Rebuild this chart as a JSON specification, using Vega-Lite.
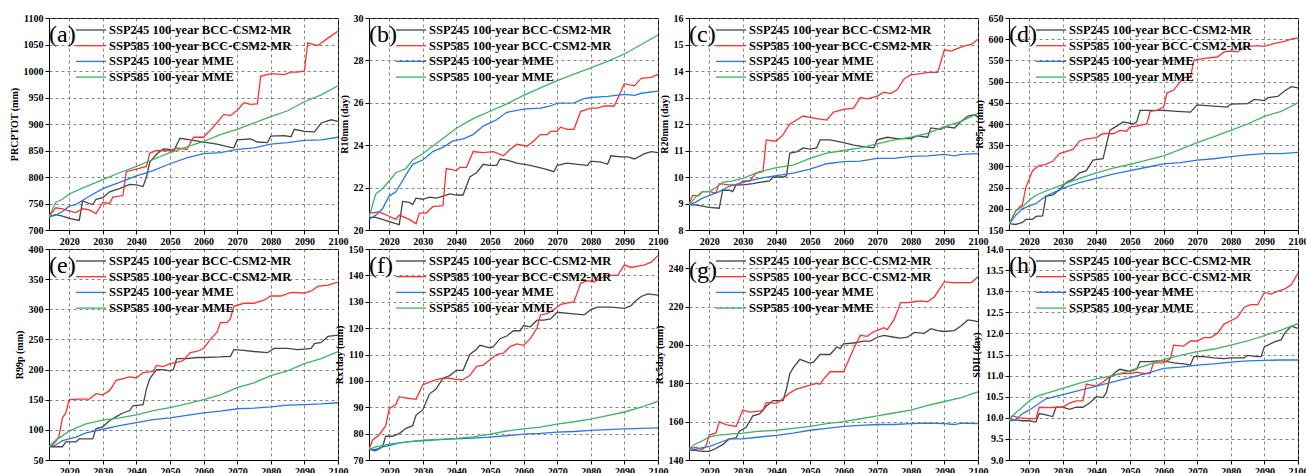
{
"$schema":"https://vega.github.io/schema/vega-lite/v6.json",
"padding":{"left":8,"top":12,"right":0,"bottom":0},
"config":{
 "font":"Liberation Serif",
 "view":{"stroke":"#000","strokeWidth":1},
 "axis":{"labelFont":"Liberation Serif","labelFontWeight":"bold","labelFontSize":10,"labelColor":"#000","titleFont":"Liberation Serif","titleFontWeight":"bold","titleFontSize":10,"titleColor":"#000","domainColor":"#000","tickColor":"#000","gridColor":"#666","gridDash":[3,3],"gridWidth":0.8,"tickSize":4,"labelOverlap":false},
 "axisX":{"labelPadding":2,"labelFlush":false},
 "legend":{"orient":"none","legendX":41,"legendY":3.5,"labelFont":"Liberation Serif","labelFontWeight":"bold","labelFontSize":12.5,"labelColor":"#000","labelLimit":400,"symbolType":"M-3,0H1","symbolSize":225,"rowPadding":0.7,"labelOffset":2,"padding":0},
 "title":{"font":"Liberation Serif","fontSize":24,"fontWeight":"normal","anchor":"start","frame":"group","offset":-34,"dx":0,"color":"#000"}
},
"datasets":{
"a":[
{"s":"k","x":2014,"v":725},{"s":"k","x":2016,"v":729},{"s":"k","x":2018,"v":726},{"s":"k","x":2020,"v":722},{"s":"k","x":2023,"v":718},{"s":"k","x":2024,"v":755},{"s":"k","x":2026,"v":750},{"s":"k","x":2027,"v":748},{"s":"k","x":2028,"v":758},{"s":"k","x":2030,"v":761},{"s":"k","x":2032,"v":772},{"s":"k","x":2035,"v":778},{"s":"k","x":2038,"v":786},{"s":"k","x":2040,"v":785},{"s":"k","x":2042,"v":782},{"s":"k","x":2043,"v":800},{"s":"k","x":2044,"v":828},{"s":"k","x":2046,"v":843},{"s":"k","x":2048,"v":853},{"s":"k","x":2050,"v":852},{"s":"k","x":2051,"v":848},{"s":"k","x":2053,"v":873},{"s":"k","x":2056,"v":870},{"s":"k","x":2060,"v":866},{"s":"k","x":2064,"v":862},{"s":"k","x":2068,"v":856},{"s":"k","x":2069,"v":855},{"s":"k","x":2070,"v":870},{"s":"k","x":2074,"v":872},{"s":"k","x":2076,"v":866},{"s":"k","x":2079,"v":865},{"s":"k","x":2080,"v":877},{"s":"k","x":2084,"v":878},{"s":"k","x":2086,"v":876},{"s":"k","x":2087,"v":890},{"s":"k","x":2090,"v":886},{"s":"k","x":2093,"v":885},{"s":"k","x":2095,"v":902},{"s":"k","x":2098,"v":908},{"s":"k","x":2100,"v":905},
{"s":"r","x":2014,"v":725},{"s":"r","x":2016,"v":742},{"s":"r","x":2018,"v":740},{"s":"r","x":2020,"v":736},{"s":"r","x":2022,"v":733},{"s":"r","x":2024,"v":740},{"s":"r","x":2026,"v":738},{"s":"r","x":2028,"v":731},{"s":"r","x":2030,"v":752},{"s":"r","x":2032,"v":750},{"s":"r","x":2033,"v":762},{"s":"r","x":2036,"v":765},{"s":"r","x":2037,"v":810},{"s":"r","x":2040,"v":815},{"s":"r","x":2043,"v":820},{"s":"r","x":2044,"v":845},{"s":"r","x":2046,"v":850},{"s":"r","x":2050,"v":850},{"s":"r","x":2052,"v":855},{"s":"r","x":2055,"v":852},{"s":"r","x":2057,"v":875},{"s":"r","x":2060,"v":875},{"s":"r","x":2063,"v":895},{"s":"r","x":2066,"v":918},{"s":"r","x":2068,"v":916},{"s":"r","x":2070,"v":926},{"s":"r","x":2072,"v":940},{"s":"r","x":2074,"v":937},{"s":"r","x":2076,"v":938},{"s":"r","x":2077,"v":990},{"s":"r","x":2080,"v":995},{"s":"r","x":2084,"v":993},{"s":"r","x":2086,"v":998},{"s":"r","x":2088,"v":998},{"s":"r","x":2090,"v":1000},{"s":"r","x":2091,"v":1053},{"s":"r","x":2094,"v":1048},{"s":"r","x":2097,"v":1062},{"s":"r","x":2100,"v":1075},
{"s":"b","x":2014,"v":725},{"s":"b","x":2016,"v":728},{"s":"b","x":2018,"v":735},{"s":"b","x":2020,"v":745},{"s":"b","x":2022,"v":748},{"s":"b","x":2025,"v":760},{"s":"b","x":2030,"v":778},{"s":"b","x":2035,"v":790},{"s":"b","x":2040,"v":802},{"s":"b","x":2045,"v":812},{"s":"b","x":2050,"v":825},{"s":"b","x":2055,"v":836},{"s":"b","x":2060,"v":844},{"s":"b","x":2065,"v":846},{"s":"b","x":2070,"v":852},{"s":"b","x":2075,"v":855},{"s":"b","x":2080,"v":862},{"s":"b","x":2085,"v":865},{"s":"b","x":2090,"v":869},{"s":"b","x":2095,"v":870},{"s":"b","x":2100,"v":875},
{"s":"g","x":2014,"v":725},{"s":"g","x":2016,"v":752},{"s":"g","x":2018,"v":758},{"s":"g","x":2020,"v":768},{"s":"g","x":2025,"v":782},{"s":"g","x":2030,"v":795},{"s":"g","x":2035,"v":808},{"s":"g","x":2040,"v":820},{"s":"g","x":2045,"v":833},{"s":"g","x":2050,"v":846},{"s":"g","x":2055,"v":857},{"s":"g","x":2060,"v":867},{"s":"g","x":2065,"v":880},{"s":"g","x":2070,"v":890},{"s":"g","x":2075,"v":902},{"s":"g","x":2080,"v":914},{"s":"g","x":2085,"v":925},{"s":"g","x":2090,"v":942},{"s":"g","x":2095,"v":955},{"s":"g","x":2100,"v":972}
],
"b":[
{"s":"k","x":2014,"v":20.6},{"s":"k","x":2016,"v":20.6},{"s":"k","x":2018,"v":20.5},{"s":"k","x":2020,"v":20.4},{"s":"k","x":2023,"v":20.25},{"s":"k","x":2024,"v":21.35},{"s":"k","x":2026,"v":21.3},{"s":"k","x":2027,"v":21.2},{"s":"k","x":2028,"v":21.5},{"s":"k","x":2030,"v":21.45},{"s":"k","x":2032,"v":21.55},{"s":"k","x":2034,"v":21.5},{"s":"k","x":2036,"v":21.6},{"s":"k","x":2038,"v":21.7},{"s":"k","x":2040,"v":21.65},{"s":"k","x":2042,"v":21.65},{"s":"k","x":2044,"v":22.5},{"s":"k","x":2046,"v":22.7},{"s":"k","x":2048,"v":23.1},{"s":"k","x":2050,"v":23.05},{"s":"k","x":2052,"v":23.05},{"s":"k","x":2053,"v":23.35},{"s":"k","x":2055,"v":23.3},{"s":"k","x":2058,"v":23.15},{"s":"k","x":2062,"v":23.05},{"s":"k","x":2066,"v":22.9},{"s":"k","x":2069,"v":22.75},{"s":"k","x":2070,"v":23.05},{"s":"k","x":2073,"v":23.15},{"s":"k","x":2076,"v":23.1},{"s":"k","x":2079,"v":23.05},{"s":"k","x":2080,"v":23.25},{"s":"k","x":2083,"v":23.2},{"s":"k","x":2085,"v":23.1},{"s":"k","x":2086,"v":23.5},{"s":"k","x":2089,"v":23.45},{"s":"k","x":2091,"v":23.45},{"s":"k","x":2093,"v":23.35},{"s":"k","x":2096,"v":23.6},{"s":"k","x":2098,"v":23.7},{"s":"k","x":2100,"v":23.65},
{"s":"r","x":2014,"v":20.8},{"s":"r","x":2017,"v":20.85},{"s":"r","x":2020,"v":20.65},{"s":"r","x":2022,"v":20.5},{"s":"r","x":2023,"v":20.7},{"s":"r","x":2026,"v":20.5},{"s":"r","x":2028,"v":20.3},{"s":"r","x":2029,"v":20.8},{"s":"r","x":2031,"v":20.8},{"s":"r","x":2033,"v":21.1},{"s":"r","x":2036,"v":21.15},{"s":"r","x":2037,"v":22.9},{"s":"r","x":2040,"v":22.8},{"s":"r","x":2041,"v":22.95},{"s":"r","x":2043,"v":22.95},{"s":"r","x":2045,"v":23.7},{"s":"r","x":2048,"v":23.65},{"s":"r","x":2051,"v":23.7},{"s":"r","x":2054,"v":23.5},{"s":"r","x":2056,"v":23.8},{"s":"r","x":2058,"v":24.05},{"s":"r","x":2061,"v":23.95},{"s":"r","x":2063,"v":24.2},{"s":"r","x":2065,"v":24.5},{"s":"r","x":2067,"v":24.5},{"s":"r","x":2068,"v":24.65},{"s":"r","x":2070,"v":24.65},{"s":"r","x":2071,"v":24.85},{"s":"r","x":2073,"v":24.75},{"s":"r","x":2075,"v":24.75},{"s":"r","x":2077,"v":25.6},{"s":"r","x":2080,"v":25.75},{"s":"r","x":2082,"v":25.75},{"s":"r","x":2084,"v":25.85},{"s":"r","x":2087,"v":25.85},{"s":"r","x":2090,"v":26.9},{"s":"r","x":2093,"v":26.8},{"s":"r","x":2095,"v":27.15},{"s":"r","x":2098,"v":27.2},{"s":"r","x":2100,"v":27.35},
{"s":"b","x":2014,"v":20.5},{"s":"b","x":2016,"v":20.7},{"s":"b","x":2018,"v":21.0},{"s":"b","x":2020,"v":21.6},{"s":"b","x":2022,"v":21.8},{"s":"b","x":2025,"v":22.6},{"s":"b","x":2027,"v":23.1},{"s":"b","x":2030,"v":23.3},{"s":"b","x":2033,"v":23.7},{"s":"b","x":2036,"v":23.9},{"s":"b","x":2039,"v":24.2},{"s":"b","x":2042,"v":24.3},{"s":"b","x":2045,"v":24.5},{"s":"b","x":2048,"v":24.9},{"s":"b","x":2050,"v":25.05},{"s":"b","x":2052,"v":25.2},{"s":"b","x":2055,"v":25.55},{"s":"b","x":2060,"v":25.7},{"s":"b","x":2065,"v":25.75},{"s":"b","x":2068,"v":25.85},{"s":"b","x":2070,"v":25.98},{"s":"b","x":2075,"v":26.0},{"s":"b","x":2078,"v":26.2},{"s":"b","x":2080,"v":26.25},{"s":"b","x":2085,"v":26.3},{"s":"b","x":2090,"v":26.4},{"s":"b","x":2093,"v":26.35},{"s":"b","x":2095,"v":26.45},{"s":"b","x":2100,"v":26.55},
{"s":"g","x":2014,"v":20.6},{"s":"g","x":2016,"v":21.7},{"s":"g","x":2018,"v":21.95},{"s":"g","x":2020,"v":22.3},{"s":"g","x":2022,"v":22.7},{"s":"g","x":2025,"v":22.9},{"s":"g","x":2027,"v":23.3},{"s":"g","x":2030,"v":23.6},{"s":"g","x":2035,"v":24.2},{"s":"g","x":2040,"v":24.8},{"s":"g","x":2045,"v":25.25},{"s":"g","x":2050,"v":25.6},{"s":"g","x":2055,"v":25.95},{"s":"g","x":2060,"v":26.35},{"s":"g","x":2065,"v":26.7},{"s":"g","x":2070,"v":27.05},{"s":"g","x":2075,"v":27.35},{"s":"g","x":2080,"v":27.65},{"s":"g","x":2085,"v":27.95},{"s":"g","x":2090,"v":28.3},{"s":"g","x":2095,"v":28.75},{"s":"g","x":2100,"v":29.2}
],
"c":[
{"s":"k","x":2014,"v":8.95},{"s":"k","x":2016,"v":8.95},{"s":"k","x":2018,"v":8.9},{"s":"k","x":2020,"v":8.85},{"s":"k","x":2023,"v":8.82},{"s":"k","x":2024,"v":9.5},{"s":"k","x":2026,"v":9.5},{"s":"k","x":2027,"v":9.45},{"s":"k","x":2028,"v":9.7},{"s":"k","x":2030,"v":9.7},{"s":"k","x":2033,"v":9.75},{"s":"k","x":2035,"v":9.8},{"s":"k","x":2038,"v":9.85},{"s":"k","x":2039,"v":10.0},{"s":"k","x":2042,"v":10.0},{"s":"k","x":2043,"v":10.05},{"s":"k","x":2044,"v":10.9},{"s":"k","x":2046,"v":10.95},{"s":"k","x":2048,"v":11.1},{"s":"k","x":2050,"v":11.05},{"s":"k","x":2052,"v":11.1},{"s":"k","x":2053,"v":11.4},{"s":"k","x":2056,"v":11.4},{"s":"k","x":2060,"v":11.3},{"s":"k","x":2063,"v":11.2},{"s":"k","x":2066,"v":11.15},{"s":"k","x":2069,"v":11.1},{"s":"k","x":2070,"v":11.4},{"s":"k","x":2073,"v":11.5},{"s":"k","x":2076,"v":11.45},{"s":"k","x":2080,"v":11.45},{"s":"k","x":2082,"v":11.55},{"s":"k","x":2085,"v":11.5},{"s":"k","x":2086,"v":11.85},{"s":"k","x":2089,"v":11.8},{"s":"k","x":2090,"v":11.9},{"s":"k","x":2093,"v":11.85},{"s":"k","x":2095,"v":12.1},{"s":"k","x":2097,"v":12.3},{"s":"k","x":2099,"v":12.35},{"s":"k","x":2100,"v":12.25},
{"s":"r","x":2014,"v":8.95},{"s":"r","x":2015,"v":9.3},{"s":"r","x":2017,"v":9.3},{"s":"r","x":2018,"v":9.45},{"s":"r","x":2020,"v":9.45},{"s":"r","x":2022,"v":9.4},{"s":"r","x":2023,"v":9.75},{"s":"r","x":2026,"v":9.7},{"s":"r","x":2029,"v":9.7},{"s":"r","x":2030,"v":9.85},{"s":"r","x":2032,"v":9.85},{"s":"r","x":2034,"v":10.15},{"s":"r","x":2036,"v":10.2},{"s":"r","x":2037,"v":11.4},{"s":"r","x":2040,"v":11.35},{"s":"r","x":2042,"v":11.6},{"s":"r","x":2044,"v":12.0},{"s":"r","x":2046,"v":12.15},{"s":"r","x":2048,"v":12.3},{"s":"r","x":2050,"v":12.25},{"s":"r","x":2052,"v":12.2},{"s":"r","x":2055,"v":12.15},{"s":"r","x":2057,"v":12.45},{"s":"r","x":2060,"v":12.55},{"s":"r","x":2063,"v":12.6},{"s":"r","x":2065,"v":13.0},{"s":"r","x":2067,"v":12.95},{"s":"r","x":2070,"v":13.05},{"s":"r","x":2072,"v":13.2},{"s":"r","x":2074,"v":13.15},{"s":"r","x":2076,"v":13.3},{"s":"r","x":2078,"v":13.7},{"s":"r","x":2080,"v":13.85},{"s":"r","x":2083,"v":13.9},{"s":"r","x":2085,"v":13.95},{"s":"r","x":2088,"v":13.95},{"s":"r","x":2090,"v":14.8},{"s":"r","x":2092,"v":14.75},{"s":"r","x":2094,"v":14.85},{"s":"r","x":2096,"v":14.95},{"s":"r","x":2098,"v":15.0},{"s":"r","x":2100,"v":15.2},
{"s":"b","x":2014,"v":8.95},{"s":"b","x":2016,"v":9.05},{"s":"b","x":2018,"v":9.2},{"s":"b","x":2020,"v":9.3},{"s":"b","x":2023,"v":9.45},{"s":"b","x":2026,"v":9.65},{"s":"b","x":2030,"v":9.8},{"s":"b","x":2035,"v":9.95},{"s":"b","x":2040,"v":10.05},{"s":"b","x":2045,"v":10.15},{"s":"b","x":2050,"v":10.3},{"s":"b","x":2055,"v":10.5},{"s":"b","x":2060,"v":10.58},{"s":"b","x":2065,"v":10.6},{"s":"b","x":2070,"v":10.7},{"s":"b","x":2075,"v":10.7},{"s":"b","x":2080,"v":10.78},{"s":"b","x":2085,"v":10.8},{"s":"b","x":2090,"v":10.85},{"s":"b","x":2093,"v":10.8},{"s":"b","x":2095,"v":10.85},{"s":"b","x":2100,"v":10.88},
{"s":"g","x":2014,"v":8.95},{"s":"g","x":2016,"v":9.25},{"s":"g","x":2018,"v":9.45},{"s":"g","x":2020,"v":9.45},{"s":"g","x":2022,"v":9.6},{"s":"g","x":2024,"v":9.8},{"s":"g","x":2027,"v":9.85},{"s":"g","x":2030,"v":9.95},{"s":"g","x":2035,"v":10.2},{"s":"g","x":2040,"v":10.35},{"s":"g","x":2045,"v":10.45},{"s":"g","x":2050,"v":10.7},{"s":"g","x":2055,"v":10.9},{"s":"g","x":2060,"v":11.0},{"s":"g","x":2065,"v":11.1},{"s":"g","x":2070,"v":11.25},{"s":"g","x":2075,"v":11.4},{"s":"g","x":2080,"v":11.5},{"s":"g","x":2085,"v":11.65},{"s":"g","x":2090,"v":11.9},{"s":"g","x":2095,"v":12.1},{"s":"g","x":2100,"v":12.4}
],
"d":[
{"s":"k","x":2014,"v":165},{"s":"k","x":2016,"v":163},{"s":"k","x":2018,"v":168},{"s":"k","x":2019,"v":175},{"s":"k","x":2021,"v":175},{"s":"k","x":2022,"v":182},{"s":"k","x":2024,"v":183},{"s":"k","x":2025,"v":230},{"s":"k","x":2027,"v":232},{"s":"k","x":2029,"v":245},{"s":"k","x":2031,"v":262},{"s":"k","x":2033,"v":270},{"s":"k","x":2035,"v":285},{"s":"k","x":2037,"v":290},{"s":"k","x":2039,"v":315},{"s":"k","x":2042,"v":318},{"s":"k","x":2044,"v":385},{"s":"k","x":2046,"v":395},{"s":"k","x":2048,"v":405},{"s":"k","x":2051,"v":400},{"s":"k","x":2052,"v":405},{"s":"k","x":2053,"v":432},{"s":"k","x":2056,"v":432},{"s":"k","x":2060,"v":432},{"s":"k","x":2064,"v":430},{"s":"k","x":2068,"v":428},{"s":"k","x":2070,"v":445},{"s":"k","x":2075,"v":442},{"s":"k","x":2079,"v":440},{"s":"k","x":2080,"v":447},{"s":"k","x":2085,"v":448},{"s":"k","x":2087,"v":458},{"s":"k","x":2090,"v":455},{"s":"k","x":2091,"v":462},{"s":"k","x":2094,"v":465},{"s":"k","x":2096,"v":478},{"s":"k","x":2098,"v":488},{"s":"k","x":2100,"v":485},
{"s":"r","x":2014,"v":165},{"s":"r","x":2016,"v":195},{"s":"r","x":2018,"v":210},{"s":"r","x":2019,"v":250},{"s":"r","x":2021,"v":290},{"s":"r","x":2023,"v":302},{"s":"r","x":2025,"v":305},{"s":"r","x":2027,"v":312},{"s":"r","x":2029,"v":330},{"s":"r","x":2031,"v":335},{"s":"r","x":2033,"v":340},{"s":"r","x":2035,"v":360},{"s":"r","x":2037,"v":365},{"s":"r","x":2040,"v":368},{"s":"r","x":2042,"v":378},{"s":"r","x":2045,"v":377},{"s":"r","x":2047,"v":385},{"s":"r","x":2049,"v":383},{"s":"r","x":2050,"v":393},{"s":"r","x":2052,"v":395},{"s":"r","x":2055,"v":400},{"s":"r","x":2056,"v":430},{"s":"r","x":2058,"v":432},{"s":"r","x":2060,"v":440},{"s":"r","x":2061,"v":473},{"s":"r","x":2063,"v":480},{"s":"r","x":2066,"v":510},{"s":"r","x":2068,"v":510},{"s":"r","x":2069,"v":550},{"s":"r","x":2072,"v":555},{"s":"r","x":2076,"v":558},{"s":"r","x":2078,"v":570},{"s":"r","x":2080,"v":572},{"s":"r","x":2082,"v":570},{"s":"r","x":2084,"v":582},{"s":"r","x":2088,"v":585},{"s":"r","x":2090,"v":583},{"s":"r","x":2093,"v":590},{"s":"r","x":2096,"v":595},{"s":"r","x":2098,"v":600},{"s":"r","x":2100,"v":603},
{"s":"b","x":2014,"v":163},{"s":"b","x":2016,"v":185},{"s":"b","x":2018,"v":200},{"s":"b","x":2020,"v":207},{"s":"b","x":2022,"v":212},{"s":"b","x":2025,"v":230},{"s":"b","x":2030,"v":248},{"s":"b","x":2035,"v":262},{"s":"b","x":2040,"v":272},{"s":"b","x":2045,"v":282},{"s":"b","x":2050,"v":290},{"s":"b","x":2055,"v":298},{"s":"b","x":2060,"v":306},{"s":"b","x":2065,"v":309},{"s":"b","x":2070,"v":315},{"s":"b","x":2075,"v":318},{"s":"b","x":2080,"v":323},{"s":"b","x":2085,"v":327},{"s":"b","x":2090,"v":330},{"s":"b","x":2095,"v":330},{"s":"b","x":2100,"v":333},
{"s":"g","x":2014,"v":163},{"s":"g","x":2016,"v":195},{"s":"g","x":2018,"v":205},{"s":"g","x":2020,"v":220},{"s":"g","x":2022,"v":232},{"s":"g","x":2025,"v":242},{"s":"g","x":2030,"v":257},{"s":"g","x":2035,"v":272},{"s":"g","x":2040,"v":285},{"s":"g","x":2045,"v":296},{"s":"g","x":2050,"v":305},{"s":"g","x":2055,"v":315},{"s":"g","x":2060,"v":325},{"s":"g","x":2065,"v":340},{"s":"g","x":2070,"v":356},{"s":"g","x":2075,"v":370},{"s":"g","x":2080,"v":385},{"s":"g","x":2085,"v":400},{"s":"g","x":2090,"v":418},{"s":"g","x":2095,"v":430},{"s":"g","x":2100,"v":450}
],
"e":[
{"s":"k","x":2014,"v":72},{"s":"k","x":2016,"v":72},{"s":"k","x":2018,"v":72},{"s":"k","x":2019,"v":80},{"s":"k","x":2022,"v":80},{"s":"k","x":2023,"v":85},{"s":"k","x":2027,"v":85},{"s":"k","x":2028,"v":102},{"s":"k","x":2030,"v":105},{"s":"k","x":2032,"v":115},{"s":"k","x":2034,"v":122},{"s":"k","x":2036,"v":128},{"s":"k","x":2038,"v":132},{"s":"k","x":2039,"v":140},{"s":"k","x":2042,"v":142},{"s":"k","x":2043,"v":168},{"s":"k","x":2044,"v":185},{"s":"k","x":2046,"v":200},{"s":"k","x":2048,"v":200},{"s":"k","x":2050,"v":198},{"s":"k","x":2051,"v":200},{"s":"k","x":2052,"v":218},{"s":"k","x":2055,"v":218},{"s":"k","x":2058,"v":220},{"s":"k","x":2060,"v":220},{"s":"k","x":2065,"v":221},{"s":"k","x":2068,"v":222},{"s":"k","x":2069,"v":233},{"s":"k","x":2072,"v":232},{"s":"k","x":2075,"v":230},{"s":"k","x":2079,"v":228},{"s":"k","x":2081,"v":235},{"s":"k","x":2085,"v":235},{"s":"k","x":2088,"v":233},{"s":"k","x":2090,"v":234},{"s":"k","x":2092,"v":235},{"s":"k","x":2093,"v":243},{"s":"k","x":2095,"v":245},{"s":"k","x":2097,"v":255},{"s":"k","x":2100,"v":257},
{"s":"r","x":2014,"v":72},{"s":"r","x":2016,"v":80},{"s":"r","x":2017,"v":90},{"s":"r","x":2018,"v":120},{"s":"r","x":2019,"v":128},{"s":"r","x":2020,"v":150},{"s":"r","x":2023,"v":151},{"s":"r","x":2026,"v":151},{"s":"r","x":2028,"v":160},{"s":"r","x":2030,"v":158},{"s":"r","x":2032,"v":165},{"s":"r","x":2034,"v":182},{"s":"r","x":2036,"v":185},{"s":"r","x":2038,"v":188},{"s":"r","x":2040,"v":186},{"s":"r","x":2042,"v":195},{"s":"r","x":2045,"v":197},{"s":"r","x":2046,"v":207},{"s":"r","x":2048,"v":205},{"s":"r","x":2050,"v":210},{"s":"r","x":2052,"v":212},{"s":"r","x":2054,"v":215},{"s":"r","x":2056,"v":228},{"s":"r","x":2058,"v":230},{"s":"r","x":2060,"v":235},{"s":"r","x":2062,"v":250},{"s":"r","x":2064,"v":262},{"s":"r","x":2065,"v":278},{"s":"r","x":2067,"v":278},{"s":"r","x":2068,"v":285},{"s":"r","x":2069,"v":305},{"s":"r","x":2072,"v":310},{"s":"r","x":2075,"v":310},{"s":"r","x":2078,"v":315},{"s":"r","x":2080,"v":322},{"s":"r","x":2083,"v":322},{"s":"r","x":2086,"v":328},{"s":"r","x":2090,"v":327},{"s":"r","x":2092,"v":330},{"s":"r","x":2094,"v":338},{"s":"r","x":2097,"v":340},{"s":"r","x":2100,"v":345},
{"s":"b","x":2014,"v":72},{"s":"b","x":2016,"v":75},{"s":"b","x":2018,"v":82},{"s":"b","x":2020,"v":85},{"s":"b","x":2022,"v":88},{"s":"b","x":2025,"v":95},{"s":"b","x":2030,"v":101},{"s":"b","x":2035,"v":107},{"s":"b","x":2040,"v":112},{"s":"b","x":2045,"v":117},{"s":"b","x":2050,"v":120},{"s":"b","x":2055,"v":124},{"s":"b","x":2060,"v":128},{"s":"b","x":2065,"v":131},{"s":"b","x":2070,"v":135},{"s":"b","x":2075,"v":136},{"s":"b","x":2080,"v":138},{"s":"b","x":2085,"v":141},{"s":"b","x":2090,"v":142},{"s":"b","x":2095,"v":143},{"s":"b","x":2100,"v":145},
{"s":"g","x":2014,"v":72},{"s":"g","x":2016,"v":83},{"s":"g","x":2018,"v":90},{"s":"g","x":2020,"v":98},{"s":"g","x":2022,"v":103},{"s":"g","x":2025,"v":110},{"s":"g","x":2030,"v":116},{"s":"g","x":2035,"v":120},{"s":"g","x":2040,"v":125},{"s":"g","x":2045,"v":132},{"s":"g","x":2050,"v":137},{"s":"g","x":2055,"v":143},{"s":"g","x":2060,"v":150},{"s":"g","x":2065,"v":158},{"s":"g","x":2070,"v":170},{"s":"g","x":2075,"v":178},{"s":"g","x":2080,"v":190},{"s":"g","x":2085,"v":198},{"s":"g","x":2090,"v":210},{"s":"g","x":2095,"v":218},{"s":"g","x":2100,"v":230}
],
"f":[
{"s":"k","x":2014,"v":74},{"s":"k","x":2016,"v":73.5},{"s":"k","x":2018,"v":75},{"s":"k","x":2019,"v":79},{"s":"k","x":2021,"v":79},{"s":"k","x":2023,"v":80},{"s":"k","x":2025,"v":82},{"s":"k","x":2027,"v":83},{"s":"k","x":2028,"v":87},{"s":"k","x":2030,"v":89},{"s":"k","x":2032,"v":95},{"s":"k","x":2034,"v":97},{"s":"k","x":2036,"v":101},{"s":"k","x":2038,"v":102},{"s":"k","x":2040,"v":104},{"s":"k","x":2042,"v":104},{"s":"k","x":2044,"v":110},{"s":"k","x":2046,"v":112},{"s":"k","x":2047,"v":113.5},{"s":"k","x":2050,"v":112.5},{"s":"k","x":2051,"v":113},{"s":"k","x":2053,"v":116},{"s":"k","x":2055,"v":117},{"s":"k","x":2057,"v":119},{"s":"k","x":2059,"v":119},{"s":"k","x":2060,"v":121},{"s":"k","x":2062,"v":120.5},{"s":"k","x":2064,"v":123},{"s":"k","x":2066,"v":123},{"s":"k","x":2068,"v":123.5},{"s":"k","x":2070,"v":126},{"s":"k","x":2074,"v":125.5},{"s":"k","x":2078,"v":125},{"s":"k","x":2080,"v":127},{"s":"k","x":2082,"v":128},{"s":"k","x":2086,"v":128},{"s":"k","x":2090,"v":127.5},{"s":"k","x":2092,"v":128.5},{"s":"k","x":2093,"v":130},{"s":"k","x":2095,"v":132},{"s":"k","x":2097,"v":133},{"s":"k","x":2100,"v":132.5},
{"s":"r","x":2014,"v":74},{"s":"r","x":2015,"v":77.5},{"s":"r","x":2017,"v":79.5},{"s":"r","x":2019,"v":83},{"s":"r","x":2020,"v":89.5},{"s":"r","x":2022,"v":91},{"s":"r","x":2023,"v":94},{"s":"r","x":2025,"v":93.5},{"s":"r","x":2028,"v":93},{"s":"r","x":2030,"v":98.5},{"s":"r","x":2032,"v":99.5},{"s":"r","x":2034,"v":100.5},{"s":"r","x":2036,"v":101},{"s":"r","x":2038,"v":101},{"s":"r","x":2040,"v":100.5},{"s":"r","x":2042,"v":100.5},{"s":"r","x":2044,"v":102},{"s":"r","x":2046,"v":105.5},{"s":"r","x":2048,"v":106},{"s":"r","x":2050,"v":108},{"s":"r","x":2052,"v":110},{"s":"r","x":2054,"v":110.5},{"s":"r","x":2056,"v":113},{"s":"r","x":2058,"v":114},{"s":"r","x":2060,"v":113.5},{"s":"r","x":2062,"v":116},{"s":"r","x":2064,"v":120},{"s":"r","x":2065,"v":125},{"s":"r","x":2067,"v":125.5},{"s":"r","x":2069,"v":127},{"s":"r","x":2071,"v":129},{"s":"r","x":2073,"v":129.5},{"s":"r","x":2075,"v":130},{"s":"r","x":2077,"v":137},{"s":"r","x":2079,"v":138},{"s":"r","x":2081,"v":137.5},{"s":"r","x":2083,"v":139},{"s":"r","x":2085,"v":140},{"s":"r","x":2088,"v":140},{"s":"r","x":2090,"v":144},{"s":"r","x":2092,"v":143},{"s":"r","x":2094,"v":143.5},{"s":"r","x":2096,"v":144},{"s":"r","x":2098,"v":145},{"s":"r","x":2100,"v":147.5},
{"s":"b","x":2014,"v":74},{"s":"b","x":2016,"v":74},{"s":"b","x":2018,"v":75},{"s":"b","x":2020,"v":75.5},{"s":"b","x":2023,"v":76.5},{"s":"b","x":2026,"v":77},{"s":"b","x":2030,"v":77.3},{"s":"b","x":2035,"v":77.7},{"s":"b","x":2040,"v":78},{"s":"b","x":2045,"v":78.3},{"s":"b","x":2050,"v":78.7},{"s":"b","x":2055,"v":79.2},{"s":"b","x":2060,"v":79.8},{"s":"b","x":2065,"v":80.1},{"s":"b","x":2070,"v":80.6},{"s":"b","x":2075,"v":80.8},{"s":"b","x":2080,"v":81.2},{"s":"b","x":2085,"v":81.5},{"s":"b","x":2090,"v":81.8},{"s":"b","x":2095,"v":82},{"s":"b","x":2100,"v":82.2},
{"s":"g","x":2014,"v":74},{"s":"g","x":2016,"v":75},{"s":"g","x":2020,"v":76},{"s":"g","x":2025,"v":76.8},{"s":"g","x":2030,"v":77.5},{"s":"g","x":2035,"v":77.8},{"s":"g","x":2040,"v":78.2},{"s":"g","x":2045,"v":78.8},{"s":"g","x":2050,"v":79.8},{"s":"g","x":2055,"v":81},{"s":"g","x":2060,"v":81.8},{"s":"g","x":2065,"v":82.5},{"s":"g","x":2070,"v":83.6},{"s":"g","x":2075,"v":84.5},{"s":"g","x":2080,"v":85.5},{"s":"g","x":2085,"v":86.8},{"s":"g","x":2090,"v":88.2},{"s":"g","x":2095,"v":90},{"s":"g","x":2100,"v":92.3}
],
"g":[
{"s":"k","x":2014,"v":145},{"s":"k","x":2016,"v":145},{"s":"k","x":2018,"v":144.5},{"s":"k","x":2020,"v":144.5},{"s":"k","x":2022,"v":146},{"s":"k","x":2024,"v":148},{"s":"k","x":2026,"v":151},{"s":"k","x":2028,"v":151.5},{"s":"k","x":2029,"v":155},{"s":"k","x":2031,"v":157},{"s":"k","x":2033,"v":163},{"s":"k","x":2035,"v":164},{"s":"k","x":2037,"v":168},{"s":"k","x":2039,"v":171},{"s":"k","x":2042,"v":171},{"s":"k","x":2043,"v":177},{"s":"k","x":2044,"v":185},{"s":"k","x":2045,"v":188},{"s":"k","x":2047,"v":192.5},{"s":"k","x":2050,"v":190.5},{"s":"k","x":2051,"v":191},{"s":"k","x":2053,"v":195},{"s":"k","x":2056,"v":195},{"s":"k","x":2058,"v":199},{"s":"k","x":2059,"v":198},{"s":"k","x":2060,"v":200.5},{"s":"k","x":2063,"v":201},{"s":"k","x":2066,"v":202},{"s":"k","x":2068,"v":202},{"s":"k","x":2070,"v":204},{"s":"k","x":2072,"v":205},{"s":"k","x":2075,"v":204},{"s":"k","x":2077,"v":203.5},{"s":"k","x":2079,"v":204},{"s":"k","x":2081,"v":206.5},{"s":"k","x":2084,"v":206},{"s":"k","x":2086,"v":208.5},{"s":"k","x":2088,"v":207.5},{"s":"k","x":2090,"v":207},{"s":"k","x":2093,"v":207.5},{"s":"k","x":2095,"v":210},{"s":"k","x":2097,"v":213},{"s":"k","x":2099,"v":212.5},{"s":"k","x":2100,"v":212},
{"s":"r","x":2014,"v":146},{"s":"r","x":2016,"v":146.5},{"s":"r","x":2018,"v":145.5},{"s":"r","x":2019,"v":147},{"s":"r","x":2020,"v":153},{"s":"r","x":2022,"v":154},{"s":"r","x":2023,"v":160},{"s":"r","x":2025,"v":158.5},{"s":"r","x":2028,"v":157.5},{"s":"r","x":2030,"v":166},{"s":"r","x":2032,"v":165},{"s":"r","x":2035,"v":165.5},{"s":"r","x":2036,"v":166},{"s":"r","x":2037,"v":170},{"s":"r","x":2040,"v":169.5},{"s":"r","x":2042,"v":172},{"s":"r","x":2044,"v":175},{"s":"r","x":2046,"v":177},{"s":"r","x":2048,"v":178},{"s":"r","x":2050,"v":179},{"s":"r","x":2052,"v":180},{"s":"r","x":2053,"v":179.5},{"s":"r","x":2054,"v":182},{"s":"r","x":2056,"v":186},{"s":"r","x":2058,"v":186},{"s":"r","x":2060,"v":186},{"s":"r","x":2061,"v":190},{"s":"r","x":2063,"v":198},{"s":"r","x":2065,"v":205},{"s":"r","x":2067,"v":204.5},{"s":"r","x":2069,"v":207},{"s":"r","x":2070,"v":207.5},{"s":"r","x":2072,"v":209},{"s":"r","x":2073,"v":208},{"s":"r","x":2075,"v":213},{"s":"r","x":2077,"v":222},{"s":"r","x":2079,"v":222},{"s":"r","x":2081,"v":222.5},{"s":"r","x":2083,"v":223},{"s":"r","x":2085,"v":222.5},{"s":"r","x":2087,"v":225},{"s":"r","x":2090,"v":233},{"s":"r","x":2092,"v":232.5},{"s":"r","x":2095,"v":232.5},{"s":"r","x":2098,"v":232.5},{"s":"r","x":2100,"v":235.5},
{"s":"b","x":2014,"v":145},{"s":"b","x":2016,"v":145.5},{"s":"b","x":2018,"v":146.5},{"s":"b","x":2020,"v":147},{"s":"b","x":2023,"v":149},{"s":"b","x":2026,"v":151},{"s":"b","x":2030,"v":151},{"s":"b","x":2035,"v":152},{"s":"b","x":2040,"v":152.8},{"s":"b","x":2045,"v":154},{"s":"b","x":2050,"v":155.5},{"s":"b","x":2055,"v":156.5},{"s":"b","x":2060,"v":157.5},{"s":"b","x":2065,"v":158},{"s":"b","x":2070,"v":158.5},{"s":"b","x":2075,"v":158.5},{"s":"b","x":2080,"v":159},{"s":"b","x":2085,"v":159.2},{"s":"b","x":2090,"v":159},{"s":"b","x":2093,"v":158.5},{"s":"b","x":2095,"v":159.2},{"s":"b","x":2100,"v":159},
{"s":"g","x":2014,"v":146},{"s":"g","x":2016,"v":148.5},{"s":"g","x":2018,"v":150},{"s":"g","x":2020,"v":152},{"s":"g","x":2023,"v":153},{"s":"g","x":2026,"v":153.5},{"s":"g","x":2030,"v":154},{"s":"g","x":2035,"v":155},{"s":"g","x":2040,"v":155.5},{"s":"g","x":2045,"v":156.5},{"s":"g","x":2050,"v":157.5},{"s":"g","x":2055,"v":159},{"s":"g","x":2060,"v":160},{"s":"g","x":2065,"v":161.5},{"s":"g","x":2070,"v":163},{"s":"g","x":2075,"v":164.5},{"s":"g","x":2080,"v":166},{"s":"g","x":2085,"v":168.5},{"s":"g","x":2090,"v":170.5},{"s":"g","x":2095,"v":172.5},{"s":"g","x":2100,"v":175.5}
],
"h":[
{"s":"k","x":2014,"v":9.95},{"s":"k","x":2016,"v":9.95},{"s":"k","x":2018,"v":9.93},{"s":"k","x":2020,"v":9.93},{"s":"k","x":2022,"v":9.9},{"s":"k","x":2023,"v":10.1},{"s":"k","x":2025,"v":10.07},{"s":"k","x":2027,"v":10.03},{"s":"k","x":2028,"v":10.25},{"s":"k","x":2030,"v":10.25},{"s":"k","x":2032,"v":10.2},{"s":"k","x":2034,"v":10.25},{"s":"k","x":2036,"v":10.25},{"s":"k","x":2038,"v":10.35},{"s":"k","x":2040,"v":10.5},{"s":"k","x":2042,"v":10.48},{"s":"k","x":2043,"v":10.6},{"s":"k","x":2044,"v":10.95},{"s":"k","x":2046,"v":11.1},{"s":"k","x":2047,"v":11.15},{"s":"k","x":2050,"v":11.1},{"s":"k","x":2052,"v":11.15},{"s":"k","x":2053,"v":11.33},{"s":"k","x":2056,"v":11.33},{"s":"k","x":2058,"v":11.35},{"s":"k","x":2060,"v":11.35},{"s":"k","x":2063,"v":11.3},{"s":"k","x":2066,"v":11.28},{"s":"k","x":2068,"v":11.25},{"s":"k","x":2069,"v":11.45},{"s":"k","x":2072,"v":11.45},{"s":"k","x":2075,"v":11.42},{"s":"k","x":2078,"v":11.4},{"s":"k","x":2080,"v":11.42},{"s":"k","x":2084,"v":11.42},{"s":"k","x":2085,"v":11.48},{"s":"k","x":2088,"v":11.45},{"s":"k","x":2089,"v":11.45},{"s":"k","x":2090,"v":11.68},{"s":"k","x":2093,"v":11.8},{"s":"k","x":2095,"v":11.85},{"s":"k","x":2096,"v":12.0},{"s":"k","x":2098,"v":12.17},{"s":"k","x":2100,"v":12.12},
{"s":"r","x":2014,"v":9.95},{"s":"r","x":2015,"v":10.05},{"s":"r","x":2017,"v":10.0},{"s":"r","x":2020,"v":9.98},{"s":"r","x":2022,"v":9.98},{"s":"r","x":2023,"v":10.25},{"s":"r","x":2026,"v":10.24},{"s":"r","x":2028,"v":10.25},{"s":"r","x":2030,"v":10.25},{"s":"r","x":2032,"v":10.35},{"s":"r","x":2034,"v":10.4},{"s":"r","x":2036,"v":10.4},{"s":"r","x":2037,"v":10.8},{"s":"r","x":2040,"v":10.75},{"s":"r","x":2042,"v":10.85},{"s":"r","x":2044,"v":10.98},{"s":"r","x":2046,"v":11.03},{"s":"r","x":2048,"v":11.05},{"s":"r","x":2050,"v":11.05},{"s":"r","x":2052,"v":11.08},{"s":"r","x":2054,"v":11.05},{"s":"r","x":2056,"v":11.05},{"s":"r","x":2057,"v":11.3},{"s":"r","x":2060,"v":11.3},{"s":"r","x":2062,"v":11.4},{"s":"r","x":2063,"v":11.72},{"s":"r","x":2066,"v":11.7},{"s":"r","x":2068,"v":11.82},{"s":"r","x":2070,"v":11.82},{"s":"r","x":2072,"v":11.9},{"s":"r","x":2074,"v":11.9},{"s":"r","x":2076,"v":12.0},{"s":"r","x":2078,"v":12.22},{"s":"r","x":2080,"v":12.3},{"s":"r","x":2082,"v":12.38},{"s":"r","x":2084,"v":12.62},{"s":"r","x":2086,"v":12.68},{"s":"r","x":2088,"v":12.68},{"s":"r","x":2090,"v":12.97},{"s":"r","x":2092,"v":12.93},{"s":"r","x":2094,"v":13.0},{"s":"r","x":2096,"v":13.05},{"s":"r","x":2098,"v":13.15},{"s":"r","x":2100,"v":13.43},
{"s":"b","x":2014,"v":9.92},{"s":"b","x":2016,"v":9.95},{"s":"b","x":2018,"v":10.1},{"s":"b","x":2020,"v":10.18},{"s":"b","x":2025,"v":10.45},{"s":"b","x":2030,"v":10.55},{"s":"b","x":2035,"v":10.65},{"s":"b","x":2040,"v":10.75},{"s":"b","x":2045,"v":10.85},{"s":"b","x":2050,"v":10.95},{"s":"b","x":2055,"v":11.05},{"s":"b","x":2060,"v":11.17},{"s":"b","x":2065,"v":11.2},{"s":"b","x":2070,"v":11.25},{"s":"b","x":2075,"v":11.28},{"s":"b","x":2080,"v":11.32},{"s":"b","x":2085,"v":11.35},{"s":"b","x":2090,"v":11.36},{"s":"b","x":2095,"v":11.37},{"s":"b","x":2100,"v":11.37},
{"s":"g","x":2014,"v":9.95},{"s":"g","x":2016,"v":10.12},{"s":"g","x":2018,"v":10.25},{"s":"g","x":2020,"v":10.4},{"s":"g","x":2022,"v":10.5},{"s":"g","x":2025,"v":10.58},{"s":"g","x":2030,"v":10.7},{"s":"g","x":2035,"v":10.82},{"s":"g","x":2040,"v":10.92},{"s":"g","x":2045,"v":11.0},{"s":"g","x":2050,"v":11.12},{"s":"g","x":2055,"v":11.25},{"s":"g","x":2060,"v":11.38},{"s":"g","x":2065,"v":11.48},{"s":"g","x":2070,"v":11.57},{"s":"g","x":2075,"v":11.63},{"s":"g","x":2080,"v":11.72},{"s":"g","x":2085,"v":11.82},{"s":"g","x":2090,"v":11.95},{"s":"g","x":2095,"v":12.08},{"s":"g","x":2100,"v":12.23}
]
},
"spacing":-4,
"resolve":{"scale":{"color":"independent","strokeWidth":"independent"},"legend":{"color":"independent","strokeWidth":"independent"}},
"vconcat":[
{"spacing":31,"bounds":"flush",
"resolve":{"scale":{"color":"independent","strokeWidth":"independent"},"legend":{"color":"independent","strokeWidth":"independent"}},
"hconcat":[
{"width":289,"height":212,"data":{"name":"a"},"title":{"text":"(a)"},"mark":{"type":"line","clip":true},
"encoding":{
"x":{"field":"x","type":"quantitative","scale":{"domain":[2014,2100],"nice":false},"axis":{"values":[2020,2030,2040,2050,2060,2070,2080,2090,2100],"format":"d","title":null}},
"y":{"field":"v","type":"quantitative","scale":{"domain":[700,1100],"nice":false,"zero":false},"axis":{"values":[700,750,800,850,900,950,1000,1050,1100],"format":"d","title":"PRCPTOT (mm)"}},
"color":{"field":"s","type":"nominal","scale":{"domain":["k","r","b","g"],"range":["#454545","#ff3030","#2a78e6","#3db462"]},"legend":{"title":null,"labelExpr":"{'k':'SSP245 100-year BCC-CSM2-MR','r':'SSP585 100-year BCC-CSM2-MR','b':'SSP245 100-year MME','g':'SSP585 100-year MME'}[datum.label]"}},
"strokeWidth":{"field":"s","type":"nominal","scale":{"domain":["k","r","b","g"],"range":[1.3,1.3,2,1.8]},"legend":{"title":null,"labelExpr":"{'k':'SSP245 100-year BCC-CSM2-MR','r':'SSP585 100-year BCC-CSM2-MR','b':'SSP245 100-year MME','g':'SSP585 100-year MME'}[datum.label]"}}
}},
{"width":289,"height":212,"data":{"name":"b"},"title":{"text":"(b)"},"mark":{"type":"line","clip":true},
"encoding":{
"x":{"field":"x","type":"quantitative","scale":{"domain":[2014,2100],"nice":false},"axis":{"values":[2020,2030,2040,2050,2060,2070,2080,2090,2100],"format":"d","title":null}},
"y":{"field":"v","type":"quantitative","scale":{"domain":[20,30],"nice":false,"zero":false},"axis":{"values":[20,22,24,26,28,30],"format":"d","title":"R10mm (day)"}},
"color":{"field":"s","type":"nominal","scale":{"domain":["k","r","b","g"],"range":["#454545","#ff3030","#2a78e6","#3db462"]},"legend":{"title":null,"labelExpr":"{'k':'SSP245 100-year BCC-CSM2-MR','r':'SSP585 100-year BCC-CSM2-MR','b':'SSP245 100-year MME','g':'SSP585 100-year MME'}[datum.label]"}},
"strokeWidth":{"field":"s","type":"nominal","scale":{"domain":["k","r","b","g"],"range":[1.3,1.3,2,1.8]},"legend":{"title":null,"labelExpr":"{'k':'SSP245 100-year BCC-CSM2-MR','r':'SSP585 100-year BCC-CSM2-MR','b':'SSP245 100-year MME','g':'SSP585 100-year MME'}[datum.label]"}}
}},
{"width":289,"height":212,"data":{"name":"c"},"title":{"text":"(c)"},"mark":{"type":"line","clip":true},
"encoding":{
"x":{"field":"x","type":"quantitative","scale":{"domain":[2014,2100],"nice":false},"axis":{"values":[2020,2030,2040,2050,2060,2070,2080,2090,2100],"format":"d","title":null}},
"y":{"field":"v","type":"quantitative","scale":{"domain":[8,16],"nice":false,"zero":false},"axis":{"values":[8,9,10,11,12,13,14,15,16],"format":"d","title":"R20mm (day)"}},
"color":{"field":"s","type":"nominal","scale":{"domain":["k","r","b","g"],"range":["#454545","#ff3030","#2a78e6","#3db462"]},"legend":{"title":null,"labelExpr":"{'k':'SSP245 100-year BCC-CSM2-MR','r':'SSP585 100-year BCC-CSM2-MR','b':'SSP245 100-year MME','g':'SSP585 100-year MME'}[datum.label]"}},
"strokeWidth":{"field":"s","type":"nominal","scale":{"domain":["k","r","b","g"],"range":[1.3,1.3,2,1.8]},"legend":{"title":null,"labelExpr":"{'k':'SSP245 100-year BCC-CSM2-MR','r':'SSP585 100-year BCC-CSM2-MR','b':'SSP245 100-year MME','g':'SSP585 100-year MME'}[datum.label]"}}
}},
{"width":289,"height":212,"data":{"name":"d"},"title":{"text":"(d)"},"mark":{"type":"line","clip":true},
"encoding":{
"x":{"field":"x","type":"quantitative","scale":{"domain":[2014,2100],"nice":false},"axis":{"values":[2020,2030,2040,2050,2060,2070,2080,2090,2100],"format":"d","title":null}},
"y":{"field":"v","type":"quantitative","scale":{"domain":[150,650],"nice":false,"zero":false},"axis":{"values":[150,200,250,300,350,400,450,500,550,600,650],"format":"d","title":"R95p (mm)"}},
"color":{"field":"s","type":"nominal","scale":{"domain":["k","r","b","g"],"range":["#454545","#ff3030","#2a78e6","#3db462"]},"legend":{"title":null,"labelExpr":"{'k':'SSP245 100-year BCC-CSM2-MR','r':'SSP585 100-year BCC-CSM2-MR','b':'SSP245 100-year MME','g':'SSP585 100-year MME'}[datum.label]"}},
"strokeWidth":{"field":"s","type":"nominal","scale":{"domain":["k","r","b","g"],"range":[1.3,1.3,2,1.8]},"legend":{"title":null,"labelExpr":"{'k':'SSP245 100-year BCC-CSM2-MR','r':'SSP585 100-year BCC-CSM2-MR','b':'SSP245 100-year MME','g':'SSP585 100-year MME'}[datum.label]"}}
}}
]},
{"spacing":31,"bounds":"flush",
"resolve":{"scale":{"color":"independent","strokeWidth":"independent"},"legend":{"color":"independent","strokeWidth":"independent"}},
"hconcat":[
{"width":289,"height":211,"data":{"name":"e"},"title":{"text":"(e)"},"mark":{"type":"line","clip":true},
"encoding":{
"x":{"field":"x","type":"quantitative","scale":{"domain":[2014,2100],"nice":false},"axis":{"values":[2020,2030,2040,2050,2060,2070,2080,2090,2100],"format":"d","title":null}},
"y":{"field":"v","type":"quantitative","scale":{"domain":[50,400],"nice":false,"zero":false},"axis":{"values":[50,100,150,200,250,300,350,400],"format":"d","title":"R99p (mm)"}},
"color":{"field":"s","type":"nominal","scale":{"domain":["k","r","b","g"],"range":["#454545","#ff3030","#2a78e6","#3db462"]},"legend":{"title":null,"labelExpr":"{'k':'SSP245 100-year BCC-CSM2-MR','r':'SSP585 100-year BCC-CSM2-MR','b':'SSP245 100-year MME','g':'SSP585 100-year MME'}[datum.label]"}},
"strokeWidth":{"field":"s","type":"nominal","scale":{"domain":["k","r","b","g"],"range":[1.3,1.3,2,1.8]},"legend":{"title":null,"labelExpr":"{'k':'SSP245 100-year BCC-CSM2-MR','r':'SSP585 100-year BCC-CSM2-MR','b':'SSP245 100-year MME','g':'SSP585 100-year MME'}[datum.label]"}}
}},
{"width":289,"height":211,"data":{"name":"f"},"title":{"text":"(f)"},"mark":{"type":"line","clip":true},
"encoding":{
"x":{"field":"x","type":"quantitative","scale":{"domain":[2014,2100],"nice":false},"axis":{"values":[2020,2030,2040,2050,2060,2070,2080,2090,2100],"format":"d","title":null}},
"y":{"field":"v","type":"quantitative","scale":{"domain":[70,150],"nice":false,"zero":false},"axis":{"values":[70,80,90,100,110,120,130,140,150],"format":"d","title":"Rx1day (mm)"}},
"color":{"field":"s","type":"nominal","scale":{"domain":["k","r","b","g"],"range":["#454545","#ff3030","#2a78e6","#3db462"]},"legend":{"title":null,"labelExpr":"{'k':'SSP245 100-year BCC-CSM2-MR','r':'SSP585 100-year BCC-CSM2-MR','b':'SSP245 100-year MME','g':'SSP585 100-year MME'}[datum.label]"}},
"strokeWidth":{"field":"s","type":"nominal","scale":{"domain":["k","r","b","g"],"range":[1.3,1.3,2,1.8]},"legend":{"title":null,"labelExpr":"{'k':'SSP245 100-year BCC-CSM2-MR','r':'SSP585 100-year BCC-CSM2-MR','b':'SSP245 100-year MME','g':'SSP585 100-year MME'}[datum.label]"}}
}},
{"width":289,"height":211,"data":{"name":"g"},"title":{"text":"(g)"},"mark":{"type":"line","clip":true},
"encoding":{
"x":{"field":"x","type":"quantitative","scale":{"domain":[2014,2100],"nice":false},"axis":{"values":[2020,2030,2040,2050,2060,2070,2080,2090,2100],"format":"d","title":null}},
"y":{"field":"v","type":"quantitative","scale":{"domain":[140,250],"nice":false,"zero":false},"axis":{"values":[140,160,180,200,220,240],"format":"d","title":"Rx5day (mm)"}},
"color":{"field":"s","type":"nominal","scale":{"domain":["k","r","b","g"],"range":["#454545","#ff3030","#2a78e6","#3db462"]},"legend":{"title":null,"labelExpr":"{'k':'SSP245 100-year BCC-CSM2-MR','r':'SSP585 100-year BCC-CSM2-MR','b':'SSP245 100-year MME','g':'SSP585 100-year MME'}[datum.label]"}},
"strokeWidth":{"field":"s","type":"nominal","scale":{"domain":["k","r","b","g"],"range":[1.3,1.3,2,1.8]},"legend":{"title":null,"labelExpr":"{'k':'SSP245 100-year BCC-CSM2-MR','r':'SSP585 100-year BCC-CSM2-MR','b':'SSP245 100-year MME','g':'SSP585 100-year MME'}[datum.label]"}}
}},
{"width":289,"height":211,"data":{"name":"h"},"title":{"text":"(h)"},"mark":{"type":"line","clip":true},
"encoding":{
"x":{"field":"x","type":"quantitative","scale":{"domain":[2014,2100],"nice":false},"axis":{"values":[2020,2030,2040,2050,2060,2070,2080,2090,2100],"format":"d","title":null}},
"y":{"field":"v","type":"quantitative","scale":{"domain":[9,14],"nice":false,"zero":false},"axis":{"values":[9,9.5,10,10.5,11,11.5,12,12.5,13,13.5,14],"format":".1f","title":"SDII (day)"}},
"color":{"field":"s","type":"nominal","scale":{"domain":["k","r","b","g"],"range":["#454545","#ff3030","#2a78e6","#3db462"]},"legend":{"title":null,"labelExpr":"{'k':'SSP245 100-year BCC-CSM2-MR','r':'SSP585 100-year BCC-CSM2-MR','b':'SSP245 100-year MME','g':'SSP585 100-year MME'}[datum.label]"}},
"strokeWidth":{"field":"s","type":"nominal","scale":{"domain":["k","r","b","g"],"range":[1.3,1.3,2,1.8]},"legend":{"title":null,"labelExpr":"{'k':'SSP245 100-year BCC-CSM2-MR','r':'SSP585 100-year BCC-CSM2-MR','b':'SSP245 100-year MME','g':'SSP585 100-year MME'}[datum.label]"}}
}}
]}
]
}
